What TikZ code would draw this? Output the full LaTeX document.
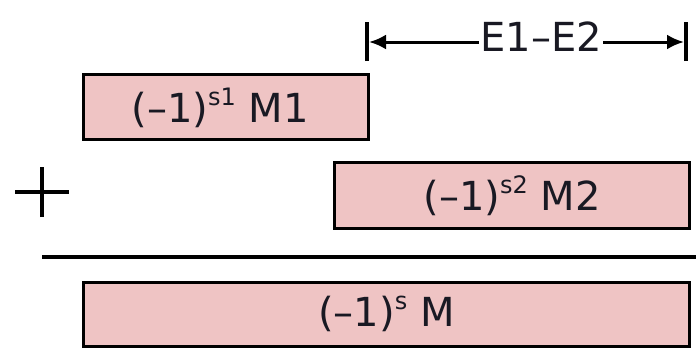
\documentclass[tikz,border=0pt]{standalone}
\usepackage{fontspec}
\setmainfont{DejaVu Sans}
\usetikzlibrary{arrows.meta}
\definecolor{boxpink}{RGB}{239,196,196}
\definecolor{txt}{RGB}{25,25,35}
\tikzset{
  mbox/.style={draw=black, line width=3pt, fill=boxpink, inner sep=0pt, anchor=north west},
  lbl/.style={font=\fontsize{40}{44}\selectfont, text=txt},
}
\newcommand{\sgn}[2]{(–1)\raisebox{0.42em}{\fontsize{24}{26}\selectfont #1}\kern0.32em #2}
\begin{document}
\begin{tikzpicture}[x=1pt,y=-1pt]
\useasboundingbox (0,0) rectangle (696,348);
% boxes
\node[mbox, minimum width=285, minimum height=65] (m1) at (82,73) {};
\node[lbl] at ([xshift=-6,yshift=-1]m1.center) {\sgn{s1}{M1}};
\node[mbox, minimum width=355, minimum height=66] (m2) at (333,161) {};
\node[lbl] at ([yshift=0]m2.center) {\sgn{s2}{M2}};
\node[mbox, minimum width=606, minimum height=64] (m) at (82,281) {};
\node[lbl] at ([yshift=1]m.center) {\sgn{s}{M}};
% sum line
\coordinate (la) at (42,257);
\coordinate (lb) at (696,257);
\draw[line width=4pt] (la) -- (lb);
% plus sign
\coordinate (pc) at (42,192);
\draw[line width=4.5pt] ([xshift=-27]pc) -- ([xshift=27]pc);
\draw[line width=4.5pt] ([yshift=-25]pc) -- ([yshift=25]pc);
% exponent difference
\coordinate (ea) at (367,42);
\coordinate (eb) at (686,42);
\draw[line width=3.5pt] ([yshift=-19]ea) -- ([yshift=20]ea);
\draw[line width=3.5pt] ([yshift=-19]eb) -- ([yshift=20]eb);
\draw[line width=3pt, {Latex[length=17pt,width=15pt]}-{Latex[length=17pt,width=15pt]}] ([xshift=2]ea) -- ([xshift=-2]eb);
\node[lbl, fill=white, inner sep=1pt] (et) at (541,37) {E1–E2};
\end{tikzpicture}
\end{document}
